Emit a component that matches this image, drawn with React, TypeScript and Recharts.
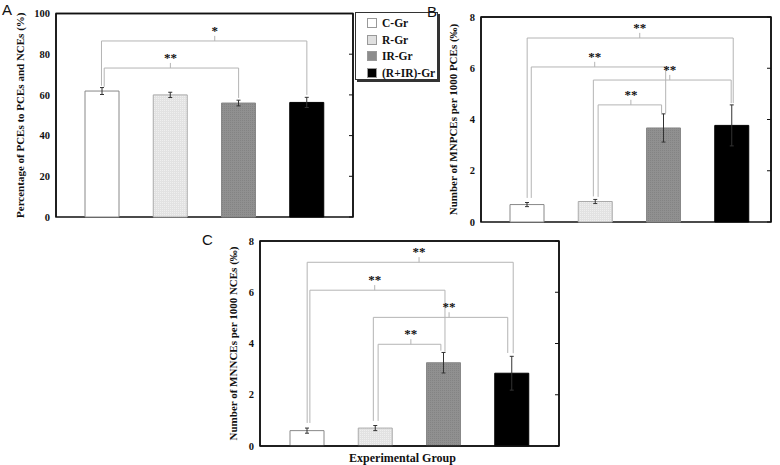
import React from "react"
import { BarChart, Bar, XAxis, YAxis, ErrorBar, Cell, ReferenceLine, ReferenceDot, ReferenceArea } from "recharts"

const GROUPS = ["C-Gr", "R-Gr", "IR-Gr", "(R+IR)-Gr"]

// A: percentage of PCEs to PCEs and NCEs
const PCE_PCT = [61.9, 60.0, 56.0, 56.3]
const PCE_PCT_ERR = [1.7, 1.3, 1.4, 2.5]
const TICKS_A = [0, 20, 40, 60, 80, 100]

// B: MNPCEs per 1000 PCEs
const MNPCE = [0.68, 0.8, 3.67, 3.77]
const MNPCE_ERR = [0.08, 0.08, 0.55, 0.8]

// C: MNNCEs per 1000 NCEs
const MNNCE = [0.6, 0.7, 3.25, 2.84]
const MNNCE_ERR = [0.1, 0.1, 0.4, 0.66]
const TICKS_BC = [0, 2, 4, 6, 8]

// significance brackets: x in group index units, y in data units
type Sig = { label: string; y: number; from: number; to: number; fromEnd: number; toEnd: number; at: number }

const SIG_A: Sig[] = [
  { label: "*", y: 86.5, from: -0.01, to: 3.0, fromEnd: 64.5, toEnd: 60.0, at: 1.65 },
  { label: "**", y: 73.2, from: 0.03, to: 2.0, fromEnd: 64.0, toEnd: 58.5, at: 1.0 },
]
const SIG_B: Sig[] = [
  { label: "**", y: 7.18, from: 0.0, to: 3.02, fromEnd: 0.94, toEnd: 4.64, at: 1.65 },
  { label: "**", y: 6.05, from: 0.06, to: 2.03, fromEnd: 0.94, toEnd: 4.25, at: 0.99 },
  { label: "**", y: 5.54, from: 0.97, to: 2.99, fromEnd: 1.0, toEnd: 4.64, at: 2.09 },
  { label: "**", y: 4.57, from: 1.04, to: 1.97, fromEnd: 0.98, toEnd: 4.25, at: 1.52 },
]
const SIG_C: Sig[] = [
  { label: "**", y: 7.17, from: 0.0, to: 3.02, fromEnd: 0.9, toEnd: 3.62, at: 1.64 },
  { label: "**", y: 6.08, from: 0.04, to: 2.02, fromEnd: 0.9, toEnd: 3.68, at: 0.99 },
  { label: "**", y: 5.02, from: 0.97, to: 2.94, fromEnd: 0.98, toEnd: 3.63, at: 2.08 },
  { label: "**", y: 3.97, from: 1.04, to: 1.96, fromEnd: 0.98, toEnd: 3.72, at: 1.52 },
]

const SERIF = '"Liberation Serif", "Times New Roman", serif'
const SANS = '"Liberation Sans", Arial, sans-serif'
const FRAME = { stroke: "#111", strokeWidth: 1.5 }
const BRACKET = "#b4b4b4"
const BAND = 68 // px per group; turns the pixel paddings into index units

const fills = (p: string) => ["#ffffff", `url(#${p}-dots)`, `url(#${p}-check)`, "#000000"]
const STROKES = ["#888", "#aaa", "#888", "#000"]

function YTitle({ viewBox, text, dx }: any) {
  const cx = viewBox.x + dx
  const cy = viewBox.y + viewBox.height / 2
  return (
    <text x={cx} y={cy} dy="0.35em" transform={`rotate(-90 ${cx} ${cy})`} textAnchor="middle"
      fontFamily={SERIF} fontWeight="bold" fontSize={11} fill="#111">
      {text}
    </text>
  )
}

function XTitle({ viewBox, text }: any) {
  return (
    <text x={viewBox.x + viewBox.width / 2 - 7} y={viewBox.y + 16} textAnchor="middle"
      fontFamily={SERIF} fontWeight="bold" fontSize={12} fill="#111">
      {text}
    </text>
  )
}

function Stars({ viewBox, text }: any) {
  return (
    <text x={viewBox.x + viewBox.width / 2} y={viewBox.y - 1} textAnchor="middle"
      fontFamily={SERIF} fontWeight="bold" fontSize={13} fill="#111">
      {text}
    </text>
  )
}

const seg = (key: string, x1: number, y1: number, x2: number, y2: number, style: any) => (
  <ReferenceLine key={key} xAxisId="n" segment={[{ x: x1, y: y1 }, { x: x2, y: y2 }]} {...style} ifOverflow="visible" />
)

const brackets = (sig: Sig[], tickLen: number) =>
  sig.flatMap((s, i) => [
    seg(`h${i}`, s.from, s.y, s.to, s.y, { stroke: BRACKET }),
    seg(`l${i}`, s.from, s.y, s.from, s.fromEnd, { stroke: BRACKET }),
    seg(`r${i}`, s.to, s.y, s.to, s.toEnd, { stroke: BRACKET }),
    seg(`t${i}`, s.at, s.y, s.at, s.y + tickLen, { stroke: BRACKET }),
    <ReferenceDot key={`s${i}`} xAxisId="n" x={s.at} y={s.y + tickLen} r={0} fill="none" stroke="none" ifOverflow="visible"
      label={<Stars text={s.label} />} />,
  ])

function Panel(props: any) {
  const { id, values, errors, ticks, max, sig, tickLen, width, height, margin, yWidth, pad, yTitle, yTitleDx, xTitle } = props
  const data = GROUPS.map((g, i) => ({ group: g, idx: i, value: values[i], err: errors[i] }))
  const groupFills = fills(id)
  // index axis spanning the whole plot width, so that the box edges are inside its domain
  const lo = -0.5 - pad.left / BAND
  const hi = 3.5 + pad.right / BAND
  return (
    <BarChart width={width} height={height} data={data} margin={margin}>
      <defs>
        <pattern id={`${id}-dots`} width="2" height="2" patternUnits="userSpaceOnUse">
          <rect width="2" height="2" fill="#e2e2e2" />
          <rect width="1" height="1" fill="#efefef" />
        </pattern>
        <pattern id={`${id}-check`} width="2" height="2" patternUnits="userSpaceOnUse">
          <rect width="2" height="2" fill="#909090" />
          <rect width="1" height="1" fill="#838383" />
        </pattern>
      </defs>
      <XAxis dataKey="group" tick={false} tickLine={false} height={xTitle ? 19 : 0} axisLine={FRAME} padding={pad}
        label={xTitle ? <XTitle text={xTitle} /> : undefined} />
      <XAxis xAxisId="n" dataKey="idx" type="number" domain={[lo, hi]} hide allowDataOverflow />
      <YAxis domain={[0, max]} ticks={ticks} width={yWidth} axisLine={FRAME} tickLine={false} tickSize={4} tickMargin={2}
        tick={{ fill: "#111", fontSize: 10.5, fontWeight: "bold", fontFamily: SERIF }}
        label={<YTitle text={yTitle} dx={yTitleDx} />} />
      <YAxis yAxisId="r" orientation="right" domain={[0, max]} ticks={ticks} mirror width={1} tickSize={4}
        tickFormatter={() => ""} axisLine={false} tickLine={{ stroke: "#111" }} allowDataOverflow />
      {/* box around the plot */}
      <ReferenceArea xAxisId="n" x1={lo} x2={hi} y1={0} y2={max} fill="none" fillOpacity={0} {...FRAME} ifOverflow="visible" />
      <Bar dataKey="value" barSize={34} isAnimationActive={false}>
        {data.map((d, i) => (
          <Cell key={d.group} fill={groupFills[i]} stroke={STROKES[i]} strokeWidth={1} />
        ))}
        <ErrorBar dataKey="err" width={2} stroke="#333" strokeWidth={1} isAnimationActive={false} />
      </Bar>
      {seg("ftop", lo, max, hi, max, FRAME)}
      {seg("fright", hi, 0, hi, max, FRAME)}
      {brackets(sig, tickLen)}
    </BarChart>
  )
}

const SWATCH = ["#ffffff", "#e0e0e0", "#8c8c8c", "#000000"]

function LegendBox() {
  return (
    <div style={{
      position: "absolute", left: 355, top: 12, width: 81, height: 66, background: "#fff",
      border: "1px solid #333", boxShadow: "2px 2px 0 #333", fontFamily: SERIF, fontWeight: "bold", fontSize: 11.5, color: "#111",
    }}>
      {GROUPS.map((g, i) => (
        <div key={g} style={{ position: "absolute", left: 11, top: 3 + i * 16.5, height: 14, display: "flex", alignItems: "center", whiteSpace: "nowrap" }}>
          <span style={{ display: "inline-block", width: 8, height: 8, background: SWATCH[i], border: "1px solid #999", marginRight: 5 }} />
          <span>{g}</span>
        </div>
      ))}
    </div>
  )
}

const letter = (t: string, left: number, top: number) => (
  <div style={{ position: "absolute", left, top, fontFamily: SANS, fontSize: 15, color: "#111", lineHeight: "15px" }}>{t}</div>
)

export default function App() {
  return (
    <div style={{ position: "absolute", left: 0, top: 0, width: 780, height: 465, background: "#fff", overflow: "hidden" }}>
      <div style={{ position: "absolute", left: 0, top: 0 }}>
        <Panel id="pa" values={PCE_PCT} errors={PCE_PCT_ERR} ticks={TICKS_A} max={100} sig={SIG_A} tickLen={2.5}
          width={361} height={225} margin={{ top: 13.5, right: 8, bottom: 8, left: 0 }} yWidth={56} pad={{ left: 12, right: 12 }}
          yTitle="Percentage of PCEs to PCEs and NCEs (%)" yTitleDx={20} />
      </div>
      <div style={{ position: "absolute", left: 420, top: 0 }}>
        <Panel id="pb" values={MNPCE} errors={MNPCE_ERR} ticks={TICKS_BC} max={8} sig={SIG_B} tickLen={0.2}
          width={361} height={230} margin={{ top: 17, right: 10, bottom: 8, left: 0 }} yWidth={61} pad={{ left: 12, right: 5 }}
          yTitle="Number of MNPCEs per 1000 PCEs (‰)" yTitleDx={33} />
      </div>
      <div style={{ position: "absolute", left: 200, top: 230 }}>
        <Panel id="pc" values={MNNCE} errors={MNNCE_ERR} ticks={TICKS_BC} max={8} sig={SIG_C} tickLen={0.2}
          width={371} height={235} margin={{ top: 11, right: 12, bottom: 0, left: 0 }} yWidth={60} pad={{ left: 13, right: 13 }}
          yTitle="Number of MNNCEs per 1000 NCEs (‰)" yTitleDx={33} xTitle="Experimental Group" />
      </div>
      <LegendBox />
      {letter("A", 2, 2)}
      {letter("B", 427, 4)}
      {letter("C", 202, 232)}
    </div>
  )
}
